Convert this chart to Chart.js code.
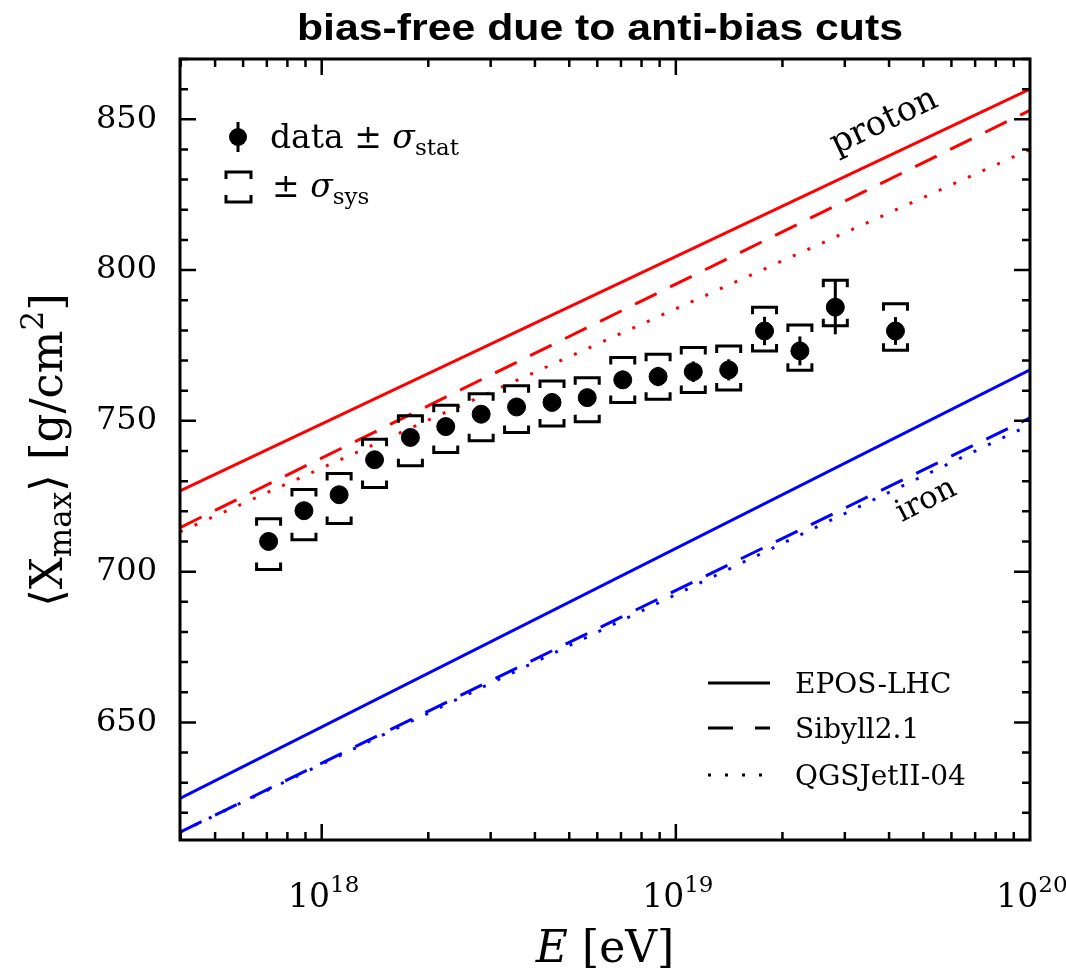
<!DOCTYPE html>
<html>
<head>
<meta charset="utf-8">
<script src="https://cdn.jsdelivr.net/npm/chart.js@4.4.1/dist/chart.umd.min.js"></script>
<style>
  html, body { margin: 0; padding: 0; background: #fff; }
  #wrap { width: 1066px; height: 978px; }
</style>
</head>
<body>
<div id="wrap"><canvas id="xmaxChart" width="1066" height="978"></canvas></div>
<script>
// measured <Xmax> per energy bin
const energy = [7.08e17, 8.91e17, 1.12e18, 1.41e18, 1.78e18, 2.24e18, 2.82e18, 3.55e18, 4.47e18,
                5.62e18, 7.08e18, 8.91e18, 1.12e19, 1.41e19, 1.78e19, 2.24e19, 2.82e19, 4.17e19];
const xmaxMean = [710.0, 720.2, 725.5, 737.1, 744.5, 748.1, 752.2, 754.6, 756.1,
                  757.7, 763.6, 764.7, 766.3, 766.9, 779.8, 773.2, 787.7, 779.8];
const statErr = [1.5, 1.5, 1.5, 1.5, 1.6, 1.7, 1.8, 2.0, 2.2,
                 2.5, 3.0, 3.2, 3.4, 3.5, 4.7, 4.8, 9.0, 4.6];
const sysHigh = [717.5, 727.2, 732.5, 743.9, 751.7, 755.2, 759.0, 761.6, 763.2,
                 764.3, 771.0, 772.1, 774.3, 774.8, 787.7, 781.8, 796.6, 788.8];
const sysLow = [700.7, 710.6, 716.0, 727.9, 735.1, 739.5, 743.4, 746.1, 748.3,
                749.7, 756.1, 757.2, 759.4, 760.2, 773.2, 766.8, 781.5, 773.4];

// model predictions (straight in log E), at both ends of the plotted range
const modelEnergy = [3.98e17, 1e20];
const protonEPOS = [726.8, 860.0];
const protonSibyll = [714.6, 853.0];
const protonQGSJet = [713.2, 840.0];
const ironEPOS = [624.8, 766.9];
const ironSibyll = [613.6, 751.0];
const ironQGSJet = [613.6, 748.7];

const yTicks = [650, 700, 750, 800, 850];
const xDecades = [18, 19, 20];

const serif = "'DejaVu Serif', serif";
const dashed = [24, 15];
const dotted = [3, 13];

function pts(ys) {
    return modelEnergy.map((e, i) => ({ x: e, y: ys[i] }));
}

function modelLine(ys, color, dash) {
    return {
        type: 'line', data: pts(ys), borderColor: color, borderWidth: 3,
        borderDash: dash, pointRadius: 0, fill: false, tension: 0
    };
}

// draw a run of text pieces: [text, size, style, dy]
function rich(ctx, parts, x, y, align) {
    let w = 0;
    parts.forEach(p => { ctx.font = `${p[2] || ''} ${p[1]}px ${serif}`; w += ctx.measureText(p[0]).width; });
    let cx = align === 'center' ? x - w / 2 : x;
    ctx.textAlign = 'left';
    ctx.textBaseline = 'alphabetic';
    parts.forEach(p => {
        ctx.font = `${p[2] || ''} ${p[1]}px ${serif}`;
        ctx.fillText(p[0], cx, y + (p[3] || 0));
        cx += ctx.measureText(p[0]).width;
    });
}

const errorBars = {
    id: 'errorBars',
    afterDatasetsDraw(chart) {
        const { ctx, scales: { x, y } } = chart;
        ctx.save();
        ctx.strokeStyle = '#000';
        ctx.lineWidth = 3;
        energy.forEach((e, i) => {
            const px = x.getPixelForValue(e);
            // stat
            ctx.beginPath();
            ctx.moveTo(px, y.getPixelForValue(xmaxMean[i] - statErr[i]));
            ctx.lineTo(px, y.getPixelForValue(xmaxMean[i] + statErr[i]));
            ctx.stroke();
            // sys brackets
            const hi = y.getPixelForValue(sysHigh[i]);
            const lo = y.getPixelForValue(sysLow[i]);
            ctx.beginPath();
            ctx.moveTo(px - 12, hi + 7); ctx.lineTo(px - 12, hi); ctx.lineTo(px + 12, hi); ctx.lineTo(px + 12, hi + 7);
            ctx.moveTo(px - 12, lo - 7); ctx.lineTo(px - 12, lo); ctx.lineTo(px + 12, lo); ctx.lineTo(px + 12, lo - 7);
            ctx.stroke();
        });
        ctx.restore();
    }
};

const decorations = {
    id: 'decorations',
    afterDraw(chart) {
        const { ctx, chartArea: a, scales: { x, y } } = chart;
        ctx.save();
        ctx.strokeStyle = '#000';
        ctx.fillStyle = '#000';

        // frame and inward ticks on all sides
        ctx.lineWidth = 3;
        ctx.strokeRect(a.left, a.top, a.right - a.left, a.bottom - a.top);
        ctx.lineWidth = 2.5;
        ctx.beginPath();
        for (let v = Math.ceil(y.min / 10) * 10; v <= y.max; v += 10) {
            const py = y.getPixelForValue(v);
            const len = v % 50 === 0 ? 16 : 8;
            ctx.moveTo(a.left, py); ctx.lineTo(a.left + len, py);
            ctx.moveTo(a.right, py); ctx.lineTo(a.right - len, py);
        }
        for (let d = 17; d <= 19; d++) {
            for (let m = 1; m <= 9; m++) {
                const v = m * Math.pow(10, d);
                if (v < x.min || v > x.max) continue;
                const px = x.getPixelForValue(v);
                const len = m === 1 ? 16 : 8;
                ctx.moveTo(px, a.bottom); ctx.lineTo(px, a.bottom - len);
                ctx.moveTo(px, a.top); ctx.lineTo(px, a.top + len);
            }
        }
        ctx.stroke();

        // x tick labels 10^n
        xDecades.forEach(n => {
            const px = x.getPixelForValue(Math.pow(10, n));
            rich(ctx, [['10', 33], [String(n), 23, '', -15]], px + 2, 907, 'center');
        });

        // axis titles
        rich(ctx, [['E', 44, 'italic'], [' [eV]', 44]], 605, 962, 'center');
        ctx.save();
        ctx.translate(62, 450);
        ctx.rotate(-Math.PI / 2);
        rich(ctx, [['\u27E8X', 45], ['max', 31, '', 9], ['\u27E9 [g/cm', 45], ['2', 31, '', -19], [']', 45]], 0, 0, 'center');
        ctx.restore();

        // title
        ctx.save();
        ctx.font = "bold 37px 'Liberation Sans', Arial, sans-serif";
        ctx.textAlign = 'center';
        ctx.textBaseline = 'alphabetic';
        const tw = ctx.measureText('bias-free due to anti-bias cuts').width;
        ctx.translate(600, 40);
        ctx.scale(606 / tw, 1);
        ctx.fillText('bias-free due to anti-bias cuts', 0, 0);
        ctx.restore();

        // legend, data
        ctx.lineWidth = 3;
        ctx.beginPath();
        ctx.moveTo(238, 122); ctx.lineTo(238, 152);
        ctx.stroke();
        ctx.beginPath();
        ctx.arc(238, 137, 9, 0, Math.PI * 2);
        ctx.fill();
        rich(ctx, [['data \u00B1 ', 33], ['\u03C3', 33, 'italic'], ['stat', 23, '', 7]], 270, 148);
        ctx.beginPath();
        ctx.moveTo(226, 179); ctx.lineTo(226, 172); ctx.lineTo(251, 172); ctx.lineTo(251, 179);
        ctx.moveTo(226, 195); ctx.lineTo(226, 202); ctx.lineTo(251, 202); ctx.lineTo(251, 195);
        ctx.stroke();
        rich(ctx, [['\u00B1 ', 33], ['\u03C3', 33, 'italic'], ['sys', 23, '', 7]], 272, 197);

        // legend, models
        const rows = [['EPOS-LHC', [], 683], ['Sibyll2.1', [25, 22], 728], ['QGSJetII-04', [3, 14], 775]];
        rows.forEach(r => {
            ctx.setLineDash(r[1]);
            ctx.beginPath();
            ctx.moveTo(708, r[2]); ctx.lineTo(770, r[2]);
            ctx.stroke();
            ctx.setLineDash([]);
            rich(ctx, [[r[0], 28]], 795, r[2] + 10);
        });

        // primary labels along the lines
        const ang = (ys) => {
            const dx = x.getPixelForValue(modelEnergy[1]) - x.getPixelForValue(modelEnergy[0]);
            const dy = y.getPixelForValue(ys[1]) - y.getPixelForValue(ys[0]);
            return Math.atan2(dy, dx);
        };
        ctx.save();
        ctx.translate(888, 130);
        ctx.rotate(ang(protonEPOS));
        rich(ctx, [['proton', 34]], 0, 0, 'center');
        ctx.restore();
        ctx.save();
        ctx.translate(930, 508);
        ctx.rotate(ang(ironEPOS));
        rich(ctx, [['iron', 31]], 0, 0, 'center');
        ctx.restore();

        ctx.restore();
    }
};

new Chart(document.getElementById('xmaxChart'), {
    type: 'scatter',
    data: {
        datasets: [
            {
                data: energy.map((e, i) => ({ x: e, y: xmaxMean[i] })),
                backgroundColor: '#000', borderColor: '#000', pointRadius: 9, pointHoverRadius: 9
            },
            modelLine(protonEPOS, '#ff0000', []),
            modelLine(protonSibyll, '#ff0000', dashed),
            modelLine(protonQGSJet, '#ff0000', dotted),
            modelLine(ironEPOS, '#0000ff', []),
            modelLine(ironSibyll, '#0000ff', dashed),
            modelLine(ironQGSJet, '#0000ff', dotted)
        ]
    },
    options: {
        responsive: false,
        animation: false,
        devicePixelRatio: 1,
        layout: { padding: { left: 0, right: 36, top: 59, bottom: 138 } },
        plugins: { legend: { display: false }, tooltip: { enabled: false }, title: { display: false } },
        scales: {
            x: {
                type: 'logarithmic', min: 3.98e17, max: 1e20,
                grid: { display: false }, border: { display: false },
                ticks: { display: false },
                afterFit(scale) { scale.height = 0; }
            },
            y: {
                type: 'linear', min: 611, max: 870,
                grid: { display: false }, border: { display: false },
                ticks: { color: '#000', padding: 15, font: { family: serif, size: 32 } },
                afterBuildTicks(scale) { scale.ticks = yTicks.map(v => ({ value: v })); },
                afterFit(scale) { scale.width = 180; }
            }
        }
    },
    plugins: [errorBars, decorations]
});
</script>
</body>
</html>
